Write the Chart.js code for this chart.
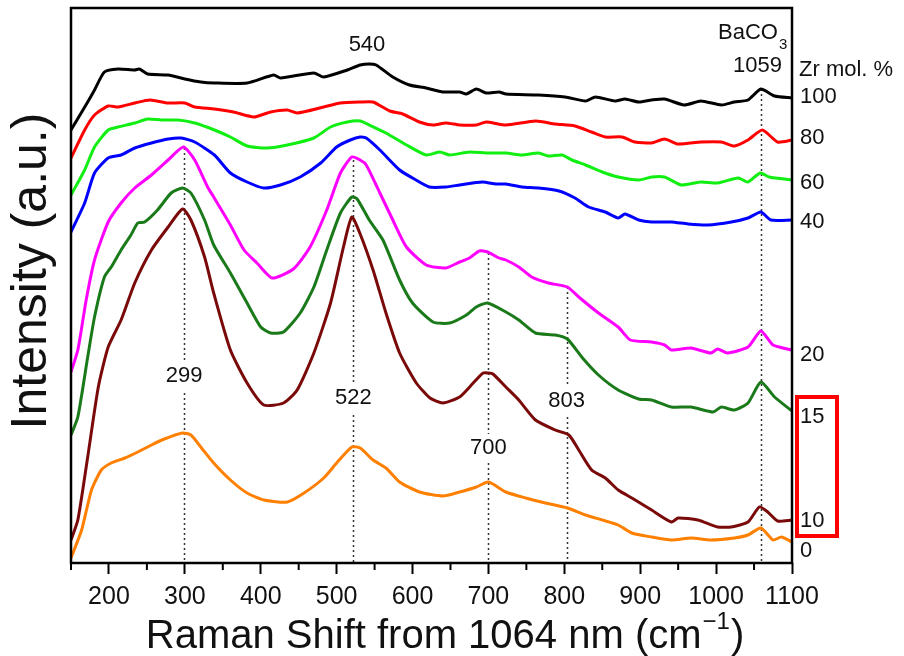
<!DOCTYPE html>
<html>
<head>
<meta charset="utf-8">
<script src="https://cdn.jsdelivr.net/npm/chart.js@4/dist/chart.umd.min.js"></script>
<style>
  html, body { margin: 0; padding: 0; background: #ffffff; }
  #wrap { width: 904px; height: 656px; }
</style>
</head>
<body>
<div id="wrap"><canvas id="raman" width="904" height="656"></canvas></div>
<script>
// Raman spectra of Ba(Zr,Ti)O3 series, stacked with vertical offsets (a.u.)
const FONT = '"Liberation Sans", Arial, Helvetica, sans-serif';

const zrLevels = ['100', '80', '60', '40', '20', '15', '10', '0'];
const lineColors = ['#000000', '#ff0000', '#11ee11', '#0000ff', '#ff00ff', '#1a7a1a', '#7a0a0a', '#ff8000'];

// [Raman shift (cm^-1), offset intensity (a.u.)]
const zr100 = [[150,433],[172,461],[181,473],[194,491],[212,494],[234,493],[240,494],[251,489],[278,488],[300,484],[321,481],[339,480],[382,480],[417,488],[426,485],[470,490],[483,486],[514,493],[531,498],[543,499],[552,498],[574,486],[596,478],[618,475],[640,471],[662,471],[671,469],[684,474],[697,470],[714,471],[723,469],[766,468],[801,466],[828,462],[841,466],[867,462],[880,464],[898,461],[915,463],[932,464],[958,458],[980,462],[1007,458],[1024,461],[1042,463],[1059,474],[1077,467],[1100,465]];
const zr80 = [[150,405],[168,433],[181,448],[199,457],[212,456],[234,460],[254,463],[278,460],[300,460],[313,456],[339,454],[364,451],[391,446],[413,451],[435,453],[448,450],[483,456],[505,460],[531,461],[548,461],[570,452],[587,449],[609,441],[627,438],[644,440],[662,438],[684,438],[697,441],[723,438],[762,442],[788,439],[814,437],[836,431],[854,426],[876,426],[893,421],[915,420],[932,424],[950,419],[980,421],[1007,421],[1024,417],[1042,423],[1061,433],[1081,421],[1100,423]];
const zr60 = [[150,368],[168,393],[181,416],[199,433],[212,436],[234,440],[251,444],[269,443],[291,443],[313,440],[339,433],[360,426],[382,417],[408,415],[435,418],[470,425],[492,436],[514,441],[531,442],[543,438],[565,430],[592,418],[618,408],[636,411],[649,408],[675,411],[697,410],[723,410],[744,408],[766,410],[779,407],[797,408],[810,403],[828,398],[850,391],[871,386],[898,383],[915,386],[932,386],[954,378],[980,381],[1002,380],[1029,385],[1042,381],[1058,390],[1070,386],[1100,383]];
const zr40 = [[150,331],[168,360],[181,390],[199,405],[216,408],[234,415],[256,420],[278,424],[295,425],[313,421],[339,408],[360,390],[382,381],[404,375],[426,378],[452,386],[479,400],[500,416],[518,423],[531,426],[539,425],[557,413],[583,393],[600,385],[622,376],[644,376],[662,378],[692,381],[710,379],[723,379],[744,376],[766,375],[793,372],[814,365],[832,356],[854,351],[871,345],[880,349],[898,343],[915,341],[941,341],[963,339],[989,338],[1020,341],[1042,345],[1059,351],[1072,343],[1100,343]];
const zr20 = [[150,191],[159,213],[170,263],[181,303],[199,341],[216,360],[234,375],[256,388],[278,403],[298,416],[313,403],[330,376],[338,366],[360,338],[378,313],[395,300],[415,285],[443,294],[465,316],[487,353],[505,390],[520,406],[531,403],[539,398],[557,370],[574,343],[592,316],[618,298],[644,295],[662,301],[675,305],[688,312],[699,311],[714,305],[723,303],[740,296],[757,286],[779,280],[804,276],[819,266],[845,250],[871,236],[887,223],[915,221],[932,218],[941,213],[967,215],[993,210],[1002,214],[1015,210],[1042,216],[1059,232],[1075,218],[1100,213]];
const zr15 = [[150,128],[159,146],[172,206],[181,246],[194,286],[203,296],[216,313],[229,328],[238,340],[247,341],[264,353],[282,370],[297,375],[308,370],[326,343],[338,318],[360,290],[382,260],[400,236],[413,230],[430,231],[452,250],[470,276],[487,313],[505,350],[520,366],[527,364],[543,343],[561,323],[583,283],[600,260],[627,241],[649,240],[671,248],[684,256],[699,260],[723,251],[740,243],[762,230],[788,228],[804,224],[824,205],[845,188],[871,173],[898,164],[915,163],[941,156],[967,156],[996,151],[1007,156],[1024,153],[1042,160],[1059,181],[1077,166],[1100,152]];
const zr10 = [[150,23],[159,43],[172,106],[186,176],[199,216],[216,243],[234,280],[256,313],[278,336],[297,354],[308,343],[326,306],[338,270],[360,213],[382,180],[404,158],[430,160],[448,173],[470,210],[492,260],[509,316],[520,346],[531,329],[548,293],[565,250],[583,210],[605,180],[623,165],[640,160],[662,166],[680,180],[693,190],[700,190],[706,189],[723,176],[740,163],[762,143],[788,133],[806,128],[819,113],[836,93],[854,85],[871,73],[889,65],[915,53],[941,41],[950,45],[976,43],[1002,36],[1020,36],[1042,41],[1057,56],[1068,51],[1081,42],[1100,43]];
const zr0 = [[150,5],[164,33],[177,73],[190,93],[203,100],[221,105],[238,111],[256,118],[273,124],[297,130],[308,128],[321,116],[338,100],[360,83],[382,70],[404,63],[435,61],[457,70],[483,85],[500,100],[520,116],[531,115],[548,103],[565,95],[583,81],[609,71],[640,67],[662,71],[684,76],[700,81],[723,71],[749,65],[775,60],[804,55],[828,48],[850,43],[871,38],[889,30],[915,26],[941,23],[967,25],[993,23],[1024,25],[1042,28],[1059,35],[1075,23],[1086,26],[1100,21]];

const spectra = [zr100, zr80, zr60, zr40, zr20, zr15, zr10, zr0];

// level (a.u.) at which each composition label sits on the right
const zrLabelLevels = [466, 425, 380, 341, 208, 146, 42, 12];

// marked bands: position, top of the guide line, label level
const bandShifts = [299, 522, 700, 803];
const bandLineTops = [415, 403, 310, 276];
const bandLabelLevels = [187, 165, 115, 162];
const carbonateShift = 1059;
const carbonateLineTop = 474;
const shoulderShift = 540;
const shoulderLabelLevel = 518;

const xTickValues = [200, 300, 400, 500, 600, 700, 800, 900, 1000, 1100];
const xMinorTicks = [150, 250, 350, 450, 550, 650, 750, 850, 950, 1050];

function textCentered(ctx, str, x, y, font) {
  ctx.font = font;
  ctx.textAlign = 'center';
  ctx.textBaseline = 'middle';
  ctx.fillText(str, x, y);
}

const guideLines = {
  id: 'guideLines',
  beforeDatasetsDraw(chart) {
    const { ctx, chartArea, scales: { x, y } } = chart;
    ctx.save();
    ctx.strokeStyle = '#333333';
    ctx.lineWidth = 1.5;
    ctx.setLineDash([2, 3]);
    const tops = bandLineTops.concat([carbonateLineTop]);
    bandShifts.concat([carbonateShift]).forEach((s, i) => {
      const px = Math.round(x.getPixelForValue(s)) + 0.5;
      ctx.beginPath();
      ctx.moveTo(px, y.getPixelForValue(tops[i]));
      ctx.lineTo(px, chartArea.bottom);
      ctx.stroke();
    });
    ctx.setLineDash([]);
    // band labels sit on a white patch that interrupts the guide line
    const f = '22px ' + FONT;
    ctx.font = f;
    bandShifts.forEach((s, i) => {
      const px = x.getPixelForValue(s);
      const py = y.getPixelForValue(bandLabelLevels[i]);
      const w = ctx.measureText(String(s)).width;
      ctx.fillStyle = '#ffffff';
      ctx.fillRect(px - w / 2 - 2, py - 14, w + 4, 28);
      ctx.fillStyle = '#111111';
      textCentered(ctx, String(s), px, py, f);
    });
    ctx.restore();
  },
  afterDatasetsDraw(chart) {
    const { ctx, chartArea: a, scales: { x, y } } = chart;
    ctx.save();
    // frame
    ctx.strokeStyle = '#000000';
    ctx.lineWidth = 2.5;
    ctx.strokeRect(a.left, a.top, a.right - a.left, a.bottom - a.top);
    // minor ticks
    ctx.lineWidth = 2;
    xMinorTicks.forEach(v => {
      const px = x.getPixelForValue(v);
      ctx.beginPath();
      ctx.moveTo(px, a.bottom);
      ctx.lineTo(px, a.bottom + 7);
      ctx.stroke();
    });
    ctx.fillStyle = '#111111';
    const f22 = '22px ' + FONT;
    // shoulder label
    textCentered(ctx, String(shoulderShift), x.getPixelForValue(shoulderShift), y.getPixelForValue(shoulderLabelLevel), f22);
    // carbonate label
    const cx = x.getPixelForValue(carbonateShift);
    ctx.font = f22;
    ctx.textAlign = 'right';
    ctx.textBaseline = 'middle';
    ctx.fillText(String(carbonateShift), cx + 21, 66);
    ctx.fillText('BaCO', cx + 17, 33);
    ctx.font = '15px ' + FONT;
    ctx.textAlign = 'left';
    ctx.fillText('3', cx + 18, 45);
    // composition labels
    ctx.font = f22;
    ctx.textAlign = 'left';
    ctx.fillText('Zr mol. %', a.right + 7, 70);
    zrLevels.forEach((lab, i) => {
      ctx.fillText(lab, a.right + 8, y.getPixelForValue(zrLabelLevels[i]));
    });
    // highlight box around 15 and 10
    const top15 = y.getPixelForValue(zrLabelLevels[5]) - 20;
    const bot10 = y.getPixelForValue(zrLabelLevels[6]) + 15;
    ctx.strokeStyle = '#ff0000';
    ctx.lineWidth = 4;
    ctx.strokeRect(a.right + 5, top15, 40, bot10 - top15);
    // axis titles
    ctx.fillStyle = '#111111';
    const main = 'Raman Shift from 1064 nm (cm';
    ctx.font = '40px ' + FONT;
    const wMain = ctx.measureText(main).width;
    const wClose = ctx.measureText(')').width;
    ctx.font = '24px ' + FONT;
    const wSup = ctx.measureText('\u22121').width;
    let tx = 444 - (wMain + wSup + wClose) / 2;
    const ty = 637;
    ctx.textAlign = 'left';
    ctx.textBaseline = 'middle';
    ctx.font = '40px ' + FONT;
    ctx.fillText(main, tx, ty);
    tx += wMain + 1;
    ctx.font = '24px ' + FONT;
    ctx.fillText('\u22121', tx, ty - 15);
    tx += wSup + 1;
    ctx.font = '40px ' + FONT;
    ctx.fillText(')', tx, ty);
    ctx.translate(32, 271);
    ctx.rotate(-Math.PI / 2);
    textCentered(ctx, 'Intensity (a.u.)', 0, 0, '50px ' + FONT);
    ctx.restore();
  }
};

new Chart(document.getElementById('raman'), {
  type: 'line',
  data: {
    datasets: spectra.map((s, i) => ({
      label: zrLevels[i],
      data: s.map(([sx, sy]) => ({ x: sx, y: sy })),
      borderColor: lineColors[i],
      borderWidth: 3,
      pointRadius: 0,
      fill: false,
      tension: 0.2
    }))
  },
  options: {
    responsive: false,
    animation: false,
    devicePixelRatio: 1,
    layout: { padding: { left: 71, right: 112, top: 8, bottom: 0 } },
    plugins: { legend: { display: false }, tooltip: { enabled: false } },
    scales: {
      x: {
        type: 'linear',
        min: 150,
        max: 1100,
        afterBuildTicks: s => { s.ticks = xTickValues.map(v => ({ value: v })); },
        afterFit: s => { s.height = 93; },
        grid: { display: true, drawOnChartArea: false, drawTicks: true, tickLength: 11, tickWidth: 2, tickColor: '#000000' },
        border: { display: false },
        ticks: {
          font: { family: FONT, size: 25 }, color: '#111111', padding: 8, maxRotation: 0, autoSkip: false,
          callback: v => String(v)
        }
      },
      y: { type: 'linear', min: 0, max: 555, display: false }
    }
  },
  plugins: [guideLines]
});
</script>
</body>
</html>
